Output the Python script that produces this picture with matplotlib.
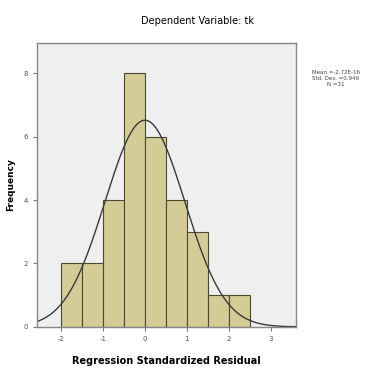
import numpy as np
import matplotlib
matplotlib.use("Agg")
import matplotlib.pyplot as plt

plt.rcParams["axes.unicode_minus"] = False

bin_edges = [-2.0, -1.5, -1.0, -0.5, 0.0, 0.5, 1.0, 1.5, 2.0, 2.5]
counts = [2, 2, 4, 8, 6, 4, 3, 1, 1]
mean_val = 0.0
std_val = 0.949
n_obs = 31
x_ticks = [-2, -1, 0, 1, 2, 3]
y_ticks = [0, 2, 4, 6, 8]

fig = plt.figure(figsize=(3.73, 3.74), dpi=100)
fig.patch.set_facecolor("white")
ax = fig.add_axes([0.099, 0.126, 0.695, 0.759])
ax.set_facecolor("#efefef")

widths = np.diff(bin_edges)
ax.bar(bin_edges[:-1], counts, width=widths, align="edge",
       color="#d4cc96", edgecolor="#4a4a30", linewidth=0.8)

xs = np.linspace(-2.57, 3.6, 300)
binw = widths[0]
ys = n_obs * binw / (std_val * np.sqrt(2 * np.pi)) * np.exp(-0.5 * ((xs - mean_val) / std_val) ** 2)
ax.plot(xs, ys, color="#3a3a3a", linewidth=1.0)

ax.set_xlim(-2.57, 3.6)
ax.set_ylim(0, 8.95)
ax.set_xticks(x_ticks)
ax.set_yticks(y_ticks)
ax.tick_params(labelsize=5, length=3, color="#777777", labelcolor="#555555")
for s in ax.spines.values():
    s.set_color("#888888")
    s.set_linewidth(1.0)

ax.set_xlabel("Regression Standardized Residual", fontsize=7, fontweight="bold", labelpad=10)
ax.set_ylabel("Frequency", fontsize=6.5, fontweight="bold", labelpad=6)
fig.text(0.53, 0.945, "Dependent Variable: tk", fontsize=7, ha="center", va="center")

fig.text(0.9, 0.79, "Mean =-2.72E-16\nStd. Dev. =0.949\nN =31", fontsize=4,
         ha="center", va="center", color="#444444", linespacing=1.3)

fig.savefig("out.png", dpi=100)
